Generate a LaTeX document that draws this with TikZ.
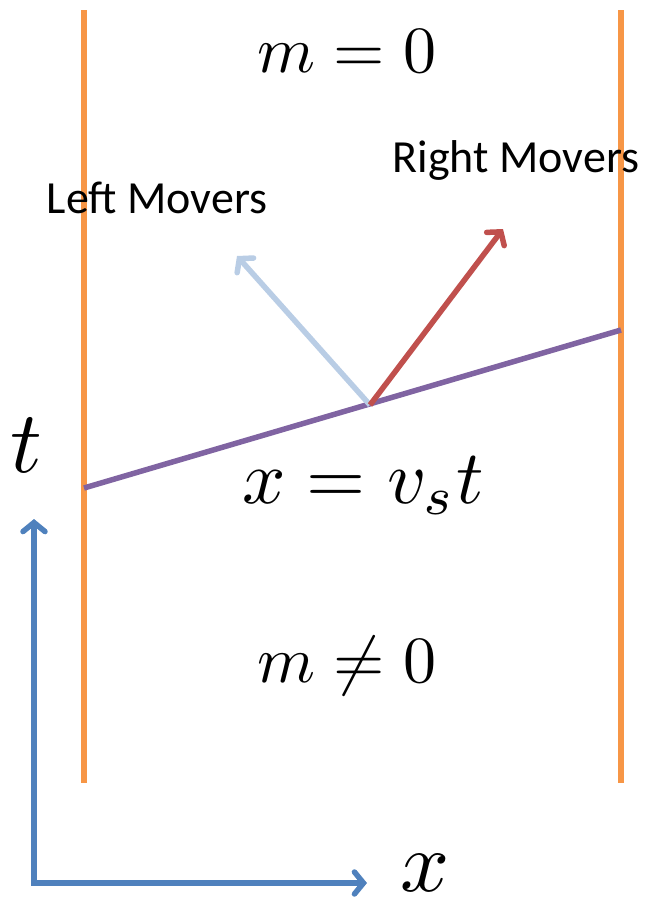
\documentclass[tikz,border=0pt]{standalone}
\usepackage{amsmath,amssymb}
\usepackage{fontspec}
\newfontfamily\moverfont{Carlito}
\usetikzlibrary{arrows.meta,positioning}
\definecolor{wallorange}{RGB}{247,150,70}
\definecolor{frontpurple}{RGB}{128,100,162}
\definecolor{leftblue}{RGB}{185,205,229}
\definecolor{rightred}{RGB}{192,80,77}
\definecolor{axisblue}{RGB}{79,129,189}
\tikzset{
  wall/.style={wallorange, line width=5.5pt},
  front/.style={frontpurple, line width=5.5pt},
  moverarr/.style={-{Straight Barb[length=9pt, width=22pt, line cap=round]}, line width=5.5pt},
  axisarr/.style={{Straight Barb[length=9pt, width=22pt, line cap=round]}-{Straight Barb[length=9pt, width=22pt, line cap=round]},
                  axisblue, line width=5.5pt, line join=miter},
  movertxt/.style={font=\moverfont\fontsize{46}{55}\selectfont, anchor=base},
  mtxt/.style={font=\fontsize{10}{12}\selectfont, anchor=base, inner sep=0pt, scale=6.6},
}

\begin{document}
\begin{tikzpicture}[x=1pt, y=-1pt]
    \useasboundingbox (0,0) rectangle (648,897);
    % walls
    \coordinate (lwtop) at (84,10);  \coordinate (lwbot) at (84,783);
    \coordinate (rwtop) at (621,10); \coordinate (rwbot) at (621,783);
    \draw[wall] (lwtop) -- (lwbot);
    \draw[wall] (rwtop) -- (rwbot);
    % the moving front x = v_s t
    \coordinate (fleft) at (84,488); \coordinate (fright) at (621,330);
    \draw[front] (fleft) -- (fright);
    \coordinate (hit) at (370,405);
    \coordinate (ltip) at (237,256); \coordinate (rtip) at (503,229);
    \draw[moverarr, leftblue] (hit) -- (ltip);
    \draw[moverarr, rightred] (hit) -- (rtip);
    % axes
    \coordinate (tup) at (34,519); \coordinate (orig) at (34,883); \coordinate (xend) at (367,883);
    \draw[axisarr] (tup) -- (orig) -- (xend);
    % labels
    \node[mtxt] (mzero) at (347,72) {$m=0$};
    \node[mtxt] (mnonzero) at (347,682) {$m\neq0$};
    \node[mtxt, scale=7.6/6.6] (frontlbl) at (363,503) {$x=v_st$};
    \node[mtxt, scale=8.8/6.6] (tlbl) at (26,472) {$t$};
    \node[mtxt, scale=8.6/6.6] (xlbl) at (425,891) {$x$};
    \node[movertxt] (rmov) at (516,172) {Right Movers};
    \node[movertxt] (lmov) at (157,213) {Left Movers};
\end{tikzpicture}
\end{document}
